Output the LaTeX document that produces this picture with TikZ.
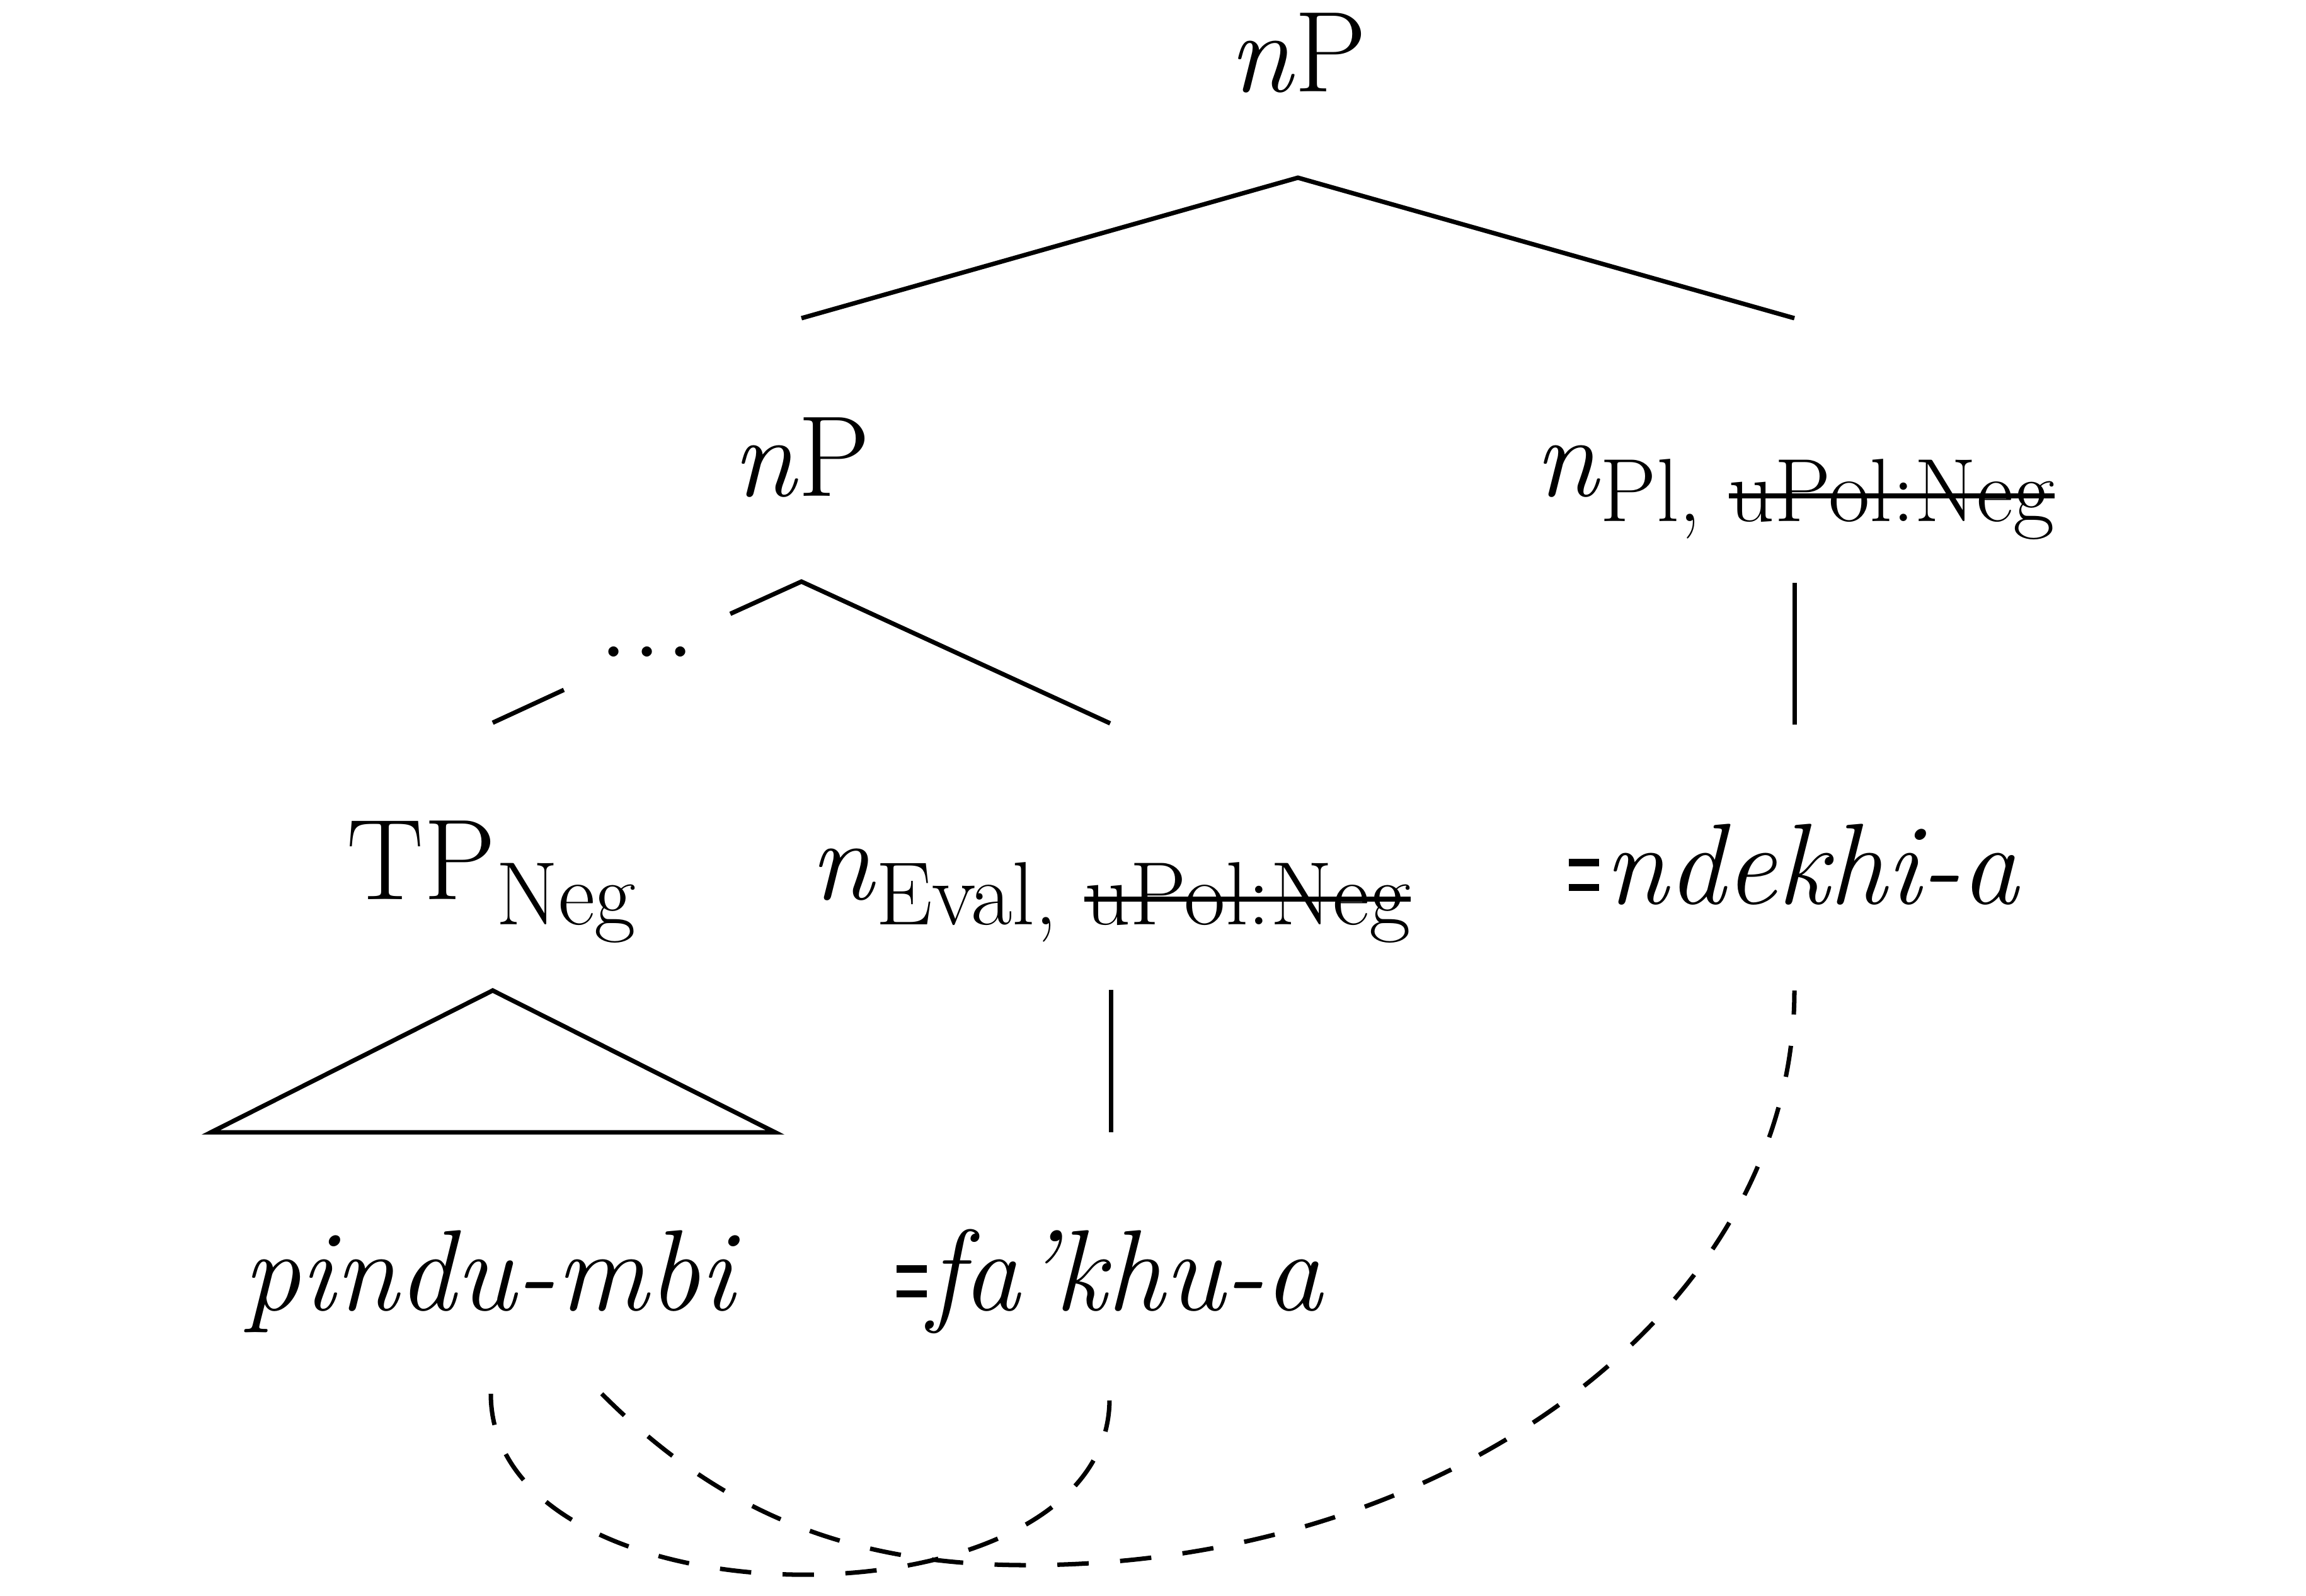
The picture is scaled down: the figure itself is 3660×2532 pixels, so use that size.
\documentclass[tikz,border=0pt]{standalone}
\newsavebox\strkbox
\newcommand\strk[1]{\sbox\strkbox{#1}\rlap{\rule[5.2pt]{\wd\strkbox}{1.2pt}}\usebox\strkbox}
\newcommand\sub[1]{\raisebox{-5.8pt}{\fontsize{20.3}{24}\selectfont #1}}
\newcommand\heq{\rule[2.8pt]{6.8pt}{1.65pt}\llap{\rule[8.4pt]{6.8pt}{1.65pt}}}
\begin{document}
\begin{tikzpicture}[x=0.005cm,y=-0.005cm,
  lbl/.style={anchor=base,inner sep=0pt,font=\fontsize{26}{30}\selectfont},
  branch/.style={line width=1pt},
  link/.style={line width=1pt,dash pattern=on 7.1pt off 7.1pt}]
\useasboundingbox[fill=white] (0,0) rectangle (3660,2532);
% labels
\node[lbl] (nP0) at (2060,145) {\textit{n}P};
\node[lbl] (nP1) at (1272,787) {\textit{n}P};
\node[lbl] (nPl) at (2848,787) {\textit{n}\sub{Pl, \strk{uPol:Neg}}};
\node[lbl] (TP) at (780,1427) {TP\sub{Neg}};
\node[lbl] (nEval) at (1762,1427) {\textit{n}\sub{Eval, \strk{uPol:Neg}}};
\node[lbl] (ndekhi) at (2848,1434) {\heq\kern1.2pt\textit{ndekhi-a}};
\node[lbl] (pindu) at (780,2079) {\textit{pindu-mbi}};
\node[lbl] (fakhu) at (1762,2079) {\heq\kern0.3pt\textit{fa’khu-a}};
\node[font=\fontsize{28}{30}\selectfont,inner xsep=7.5pt,inner ysep=10pt] (dots) at (1027,1034) {.\kern0.6pt.\kern0.6pt.};
% branch points
\coordinate (b0) at (2060,282);
\coordinate (b0l) at (1272,505);
\coordinate (b0r) at (2848,505);
\coordinate (b1) at (1272,923);
\coordinate (b1l) at (782,1147);
\coordinate (b1r) at (1762,1148);
\coordinate (v1t) at (2848,925);
\coordinate (v1b) at (2848,1150);
\coordinate (tri) at (782,1572);
\coordinate (tril) at (335,1797);
\coordinate (trir) at (1230,1797);
\coordinate (v2t) at (1763,1571);
\coordinate (v2b) at (1763,1797);
\coordinate (c1s) at (779,2212);
\coordinate (c1e) at (1761,2220);
\coordinate (c2s) at (955,2212);
\coordinate (c2m) at (1630,2484);
\coordinate (c2e) at (2848,1572);
% tree
\draw[branch] (b0l) -- (b0) -- (b0r);
\draw[branch] (b1r) -- (b1) -- (dots);
\draw[branch] (dots) -- (b1l);
\draw[branch] (v1t) -- (v1b);
\draw[branch] (tri) -- (tril) -- (trir) -- cycle;
\draw[branch] (v2t) -- (v2b);
% dashed links
\draw[link] (c1s) .. controls (779,2591) and (1761,2596) .. (c1e);
\draw[link] (c2s) .. controls (1132,2389) and (1330,2484) .. (c2m) .. controls (2303,2484) and (2848,2076) .. (c2e);
\end{tikzpicture}
\end{document}
